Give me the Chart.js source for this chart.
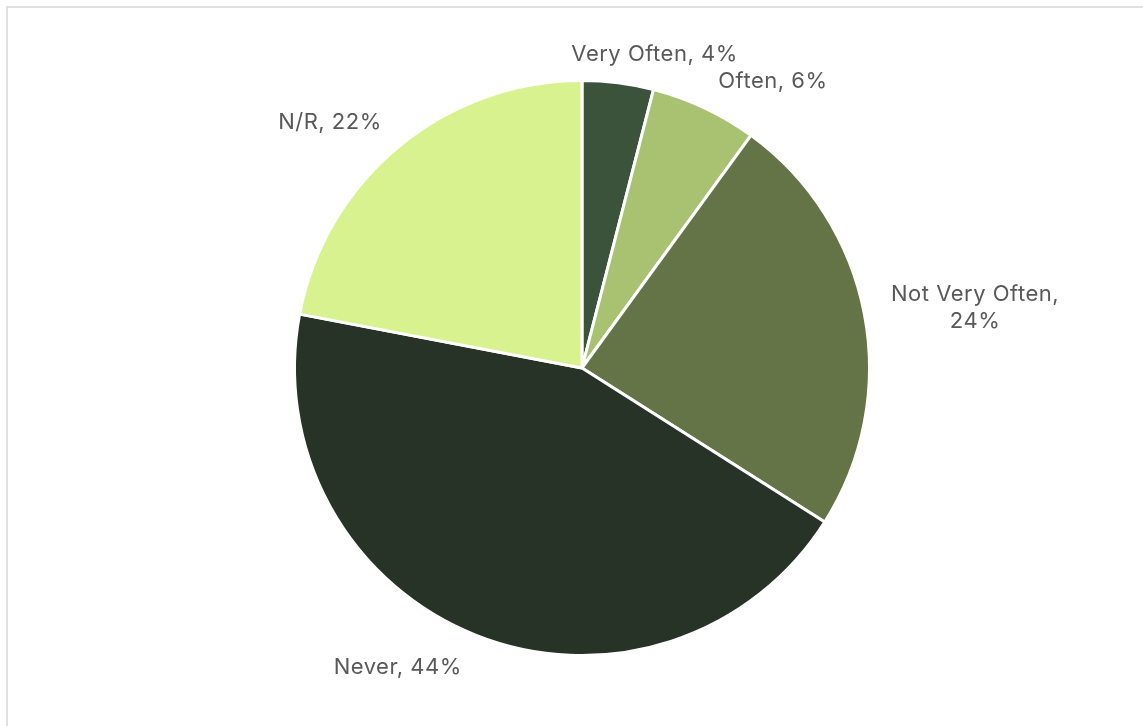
<!DOCTYPE html>
<html>
<head>
<meta charset="utf-8">
<script src="https://cdn.jsdelivr.net/npm/chart.js@4"></script>
<style>
html,body{margin:0;padding:0;background:#fff;overflow:hidden;}
#wrap{position:relative;width:1143px;height:726px;}
#frame{position:absolute;left:6px;top:6px;width:1300px;height:900px;border-left:2px solid #e0e0e0;border-top:2px solid #e0e0e0;box-sizing:border-box;}
canvas{position:absolute;left:0;top:0;}
</style>
</head>
<body>
<div id="wrap">
<div id="frame"></div>
<canvas id="c" width="1143" height="726"></canvas>
</div>
<script>
const categories = ["Very Often", "Often", "Not Very Often", "Never", "N/R"];
const values = [4, 6, 24, 44, 22];
const colors = ["#3b523b", "#a9c272", "#647446", "#283327", "#d7f28f"];
const labelLines = [["Very Often, 4%"], ["Often, 6%"], ["Not Very Often,", "24%"], ["Never, 44%"], ["N/R, 22%"]];
const labelOffsets = [[34, -2], [60, -2], [91, 4], [-71, 20], [-56, -2]];

const outsideLabels = {
  id: 'outsideLabels',
  afterDatasetsDraw(chart) {
    const ctx = chart.ctx;
    const meta = chart.getDatasetMeta(0);
    ctx.save();
    ctx.font = '22px Inter, "Open Sans", sans-serif';
    if ('letterSpacing' in ctx) ctx.letterSpacing = '0.5px';
    ctx.fillStyle = '#595959';
    ctx.textAlign = 'center';
    ctx.textBaseline = 'alphabetic';
    meta.data.forEach((arc, i) => {
      const mid = (arc.startAngle + arc.endAngle) / 2;
      const d = arc.outerRadius + 20;
      const x = arc.x + Math.cos(mid) * d + labelOffsets[i][0];
      const y = arc.y + Math.sin(mid) * d + labelOffsets[i][1];
      const lines = labelLines[i];
      const lh = 27;
      lines.forEach((t, k) => {
        ctx.fillText(t, x, y + (k - (lines.length - 1) / 2) * lh);
      });
    });
    ctx.restore();
  }
};

new Chart(document.getElementById('c'), {
  type: 'pie',
  data: {
    labels: categories,
    datasets: [{
      data: values,
      backgroundColor: colors,
      borderColor: '#ffffff',
      borderWidth: 3
    }]
  },
  options: {
    responsive: false,
    animation: false,
    layout: { padding: { left: 200, right: 179, top: 79, bottom: 69 } },
    plugins: { legend: { display: false }, tooltip: { enabled: false } }
  },
  plugins: [outsideLabels]
});
</script>
</body>
</html>
